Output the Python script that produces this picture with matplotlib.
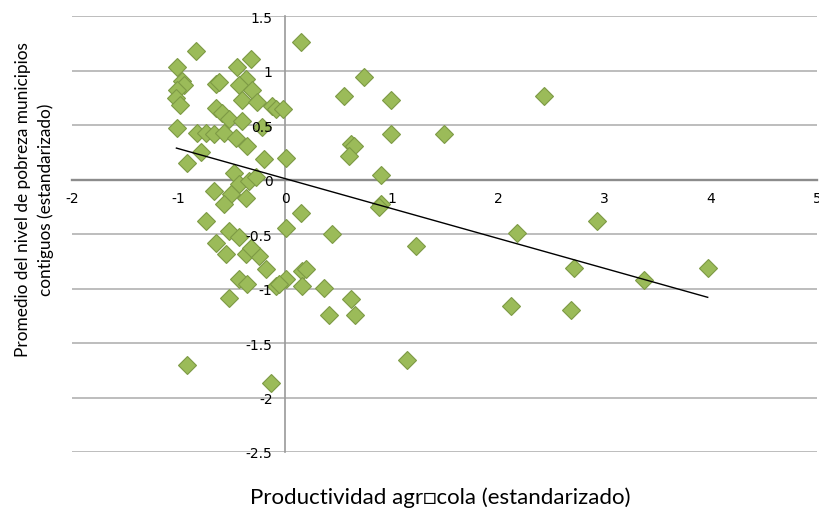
import matplotlib
matplotlib.use("Agg")
import matplotlib.pyplot as plt
from matplotlib.transforms import ScaledTranslation

# Data
x_vals = [-1.01, -0.84, -0.97, -0.95, -1.01, -1.02, -0.99, -0.65, -0.62, -0.45,
          -0.32, -0.37, -0.43, -0.31, -0.40, -0.26, -0.12, -0.08, -0.02, -0.65,
          -0.59, -0.53, -0.40, -1.01, -0.83, -0.74, -0.67, -0.57, -0.46, -0.36,
          -0.22, -0.20, 0.01, -0.79, -0.92, -0.48, -0.43, -0.34, -0.27, -0.67,
          -0.51, -0.57, -0.37, -0.74, 0.01, 0.15, -0.53, -0.43, -0.65, -0.55,
          -0.37, -0.24, -0.32, -0.18, -0.43, -0.36, -0.08, 0.01, 0.16, 0.16,
          -0.53, -0.92, -0.13, 0.15, 0.74, 0.55, 1.00, 1.00, 1.49, 0.62,
          0.65, 0.60, 0.90, 0.90, 0.88, 0.44, 1.23, 0.20, 0.37, 0.62,
          0.41, 0.66, -0.06, 1.15, 2.43, 2.18, 2.93, 2.71, 3.37, 3.97,
          2.12, 2.69]
y_vals = [1.03, 1.18, 0.91, 0.87, 0.82, 0.75, 0.69, 0.88, 0.90, 1.03,
          1.11, 0.92, 0.87, 0.82, 0.73, 0.71, 0.68, 0.65, 0.65, 0.66,
          0.61, 0.56, 0.54, 0.47, 0.43, 0.43, 0.42, 0.43, 0.38, 0.31,
          0.48, 0.19, 0.20, 0.25, 0.15, 0.06, -0.04, -0.01, 0.02, -0.10,
          -0.13, -0.22, -0.17, -0.38, -0.44, -0.31, -0.47, -0.53, -0.58, -0.68,
          -0.68, -0.70, -0.63, -0.82, -0.91, -0.96, -0.98, -0.91, -0.84, -0.98,
          -1.09, -1.70, -1.87, 1.26, 0.94, 0.77, 0.73, 0.42, 0.42, 0.33,
          0.31, 0.22, 0.04, -0.22, -0.25, -0.50, -0.61, -0.82, -0.99, -1.10,
          -1.24, -1.24, -0.96, -1.66, 0.77, -0.49, -0.38, -0.81, -0.92, -0.81,
          -1.16, -1.20]

trend_x = [-1.02, 3.97]
trend_y = [0.29, -1.08]

x_ticks = [-2, -1, 0, 1, 2, 3, 4, 5]
x_ticklabels = ["-2", "-1", "0", "1", "2", "3", "4", "5"]
y_ticks = [-2.5, -2, -1.5, -1, -0.5, 0, 0.5, 1, 1.5]
y_ticklabels = ["-2.5", "-2", "-1.5", "-1", "-0.5", "0", "0.5", "1", "1.5"]

x_label = "Productividad agr\u25a1cola (estandarizado)"
y_label = "Promedio del nivel de pobreza municipios\ncontiguos (estandarizado)"

fig = plt.figure(figsize=(8.19, 5.09), dpi=100)
ax = fig.add_axes([0.088, 0.112, 0.910, 0.856])
ax.set_xlim(-2, 5)
ax.set_ylim(-2.5, 1.5)

ax.set_yticks(y_ticks)
ax.set_yticklabels(y_ticklabels, fontfamily="Liberation Serif", fontsize=9)
ax.set_xticks(x_ticks)
ax.set_xticklabels(x_ticklabels, fontfamily="Liberation Sans", fontsize=8)
ax.grid(False)
ax.set_axisbelow(False)  # tick labels drawn above markers, as in the reference
for yt in y_ticks:
    ax.axhline(yt, color="#bdbdbd", linewidth=1.4, zorder=1)

for s in ["top", "right"]:
    ax.spines[s].set_visible(False)
ax.spines["left"].set_position(("data", 0))
ax.spines["bottom"].set_position(("data", 0))
ax.spines["left"].set_color("#9a9a9a")
ax.spines["bottom"].set_color("#8c8c8c")
ax.spines["left"].set_linewidth(1.2)
ax.spines["bottom"].set_linewidth(1.7)
ax.spines["left"].set_zorder(1.5)
ax.spines["bottom"].set_zorder(1.5)
ax.tick_params(axis="both", length=0)
ax.tick_params(axis="x", pad=9)
ax.tick_params(axis="y", pad=9)
shift = ScaledTranslation(0, -0.025, fig.dpi_scale_trans)
for lbl in ax.get_yticklabels():
    lbl.set_verticalalignment("center")
    lbl.set_transform(lbl.get_transform() + shift)

ax.plot(x_vals, y_vals, linestyle="none", marker="D", markersize=9.5,
        markerfacecolor="#9bbb59", markeredgecolor="#7d9a45",
        markeredgewidth=0.8, zorder=2)
ax.plot(trend_x, trend_y, color="black", linewidth=1.0, zorder=2.2)

fig.text(0.537, 0.010, x_label, ha="center", va="baseline",
         fontfamily="Lato", fontsize=16)
fig.text(0.042, 0.607, y_label, ha="center", va="center", rotation=90,
         fontfamily="Lato", fontsize=12.4, linespacing=1.45)

fig.savefig("out.png", dpi=100)
